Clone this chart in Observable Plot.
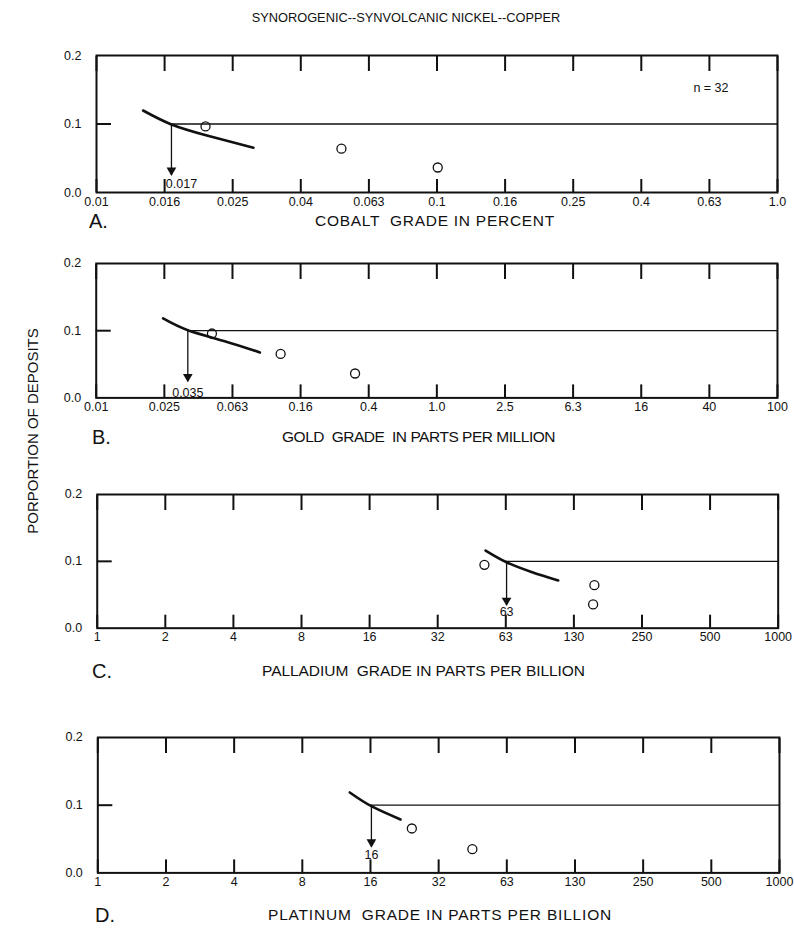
<!DOCTYPE html>
<html><head><meta charset="utf-8">
<script src="https://cdn.jsdelivr.net/npm/d3@7"></script>
<script src="https://cdn.jsdelivr.net/npm/@observablehq/plot@0.6"></script>
<style>
body{margin:0;background:#fff;}
#page{position:relative;width:794px;height:930px;font-family:"Liberation Sans",Arial,Helvetica,sans-serif;color:#111;overflow:hidden;background:#fff;}
.t{position:absolute;white-space:pre;line-height:1;transform:translateY(-50%);}
.panel{position:absolute;left:0;}
</style></head><body><div id="page"></div>
<script>
// ---------- text ----------
const chartTitle = "SYNOROGENIC--SYNVOLCANIC NICKEL--COPPER";
const yAxisTitle = "PORPORTION OF DEPOSITS";
const panelLetters = ["A.", "B.", "C.", "D."];
const panelTitles = [
  "COBALT  GRADE IN PERCENT",
  "GOLD  GRADE  IN PARTS PER MILLION",
  "PALLADIUM  GRADE IN PARTS PER BILLION",
  "PLATINUM  GRADE IN PARTS PER BILLION"
];
const countLabel = "n = 32";

// ---------- axes ----------
const xDomainA = [0.01, 1];
const xDomainB = [0.01, 100];
const xDomainC = [1, 1000];
const xDomainD = [1, 1000];
const tickLabelsA = ["0.01","0.016","0.025","0.04","0.063","0.1","0.16","0.25","0.4","0.63","1.0"];
const tickLabelsB = ["0.01","0.025","0.063","0.16","0.4","1.0","2.5","6.3","16","40","100"];
const tickLabelsC = ["1","2","4","8","16","32","63","130","250","500","1000"];
const tickLabelsD = ["1","2","4","8","16","32","63","130","250","500","1000"];
const yTicks = [0, 0.1, 0.2];
const yDomain = [0, 0.2];

// ---------- fitted curves ----------
const curveXA = [0.0137, 0.0166, 0.0211, 0.0289];
const curveYA = [0.1197, 0.0993, 0.0832, 0.0653];
const curveXB = [0.0247, 0.0345, 0.0562, 0.0914];
const curveYB = [0.1182, 0.1007, 0.0848, 0.0676];
const curveXC = [51.4, 63.6, 82.5, 107.4];
const curveYC = [0.1162, 0.0987, 0.0838, 0.0714];
const curveXD = [12.85, 16.0, 21.5];
const curveYD = [0.1188, 0.0985, 0.0789];

// ---------- observed points ----------
const pointXA = [0.0209, 0.0524, 0.1005];
const pointYA = [0.0964, 0.0640, 0.0365];
const pointXB = [0.0478, 0.121, 0.331];
const pointYB = [0.0958, 0.0655, 0.0363];
const pointXC = [50.8, 155, 153];
const pointYC = [0.0948, 0.0643, 0.0355];
const pointXD = [24.1, 44.5];
const pointYD = [0.0656, 0.0350];

// ---------- 10th-percentile markers ----------
const crossX = [0.0166, 0.0345, 63.6, 16.0];
const crossY = 0.1;
const arrowTipY = [0.025, 0.024, 0.034, 0.038];
const markerLabels = ["0.017", "0.035", "63", "16"];
const markerLabelY = [0.0127, 0.0075, 0.024, 0.026];

// ---------- layout (pixels) ----------
const frames = [
  {top: 55, bottom: 192, left: 96, right: 777},
  {top: 263.3, bottom: 397.7, left: 95.7, right: 777},
  {top: 494, bottom: 627.7, left: 96.7, right: 777.7},
  {top: 737.3, bottom: 872.7, left: 97.3, right: 779}
];
const letterPos = [{x: 89, y: 221}, {x: 92, y: 437}, {x: 92, y: 671}, {x: 95, y: 915}];
const titlePos = [{x: 315, y: 221}, {x: 282, y: 437}, {x: 262, y: 671}, {x: 268, y: 915}];
const titleWidth = [240, 273, 323, 344];
const markerLabelDx = [10, 0, 0, 0];

const panels = [
  {dom: xDomainA, labels: tickLabelsA, cx: curveXA, cy: curveYA, px: pointXA, py: pointYA},
  {dom: xDomainB, labels: tickLabelsB, cx: curveXB, cy: curveYB, px: pointXB, py: pointYB},
  {dom: xDomainC, labels: tickLabelsC, cx: curveXC, cy: curveYC, px: pointXC, py: pointYC},
  {dom: xDomainD, labels: tickLabelsD, cx: curveXD, cy: curveYD, px: pointXD, py: pointYD}
];

const page = document.getElementById("page");
const FONT = '"Liberation Sans", Arial, Helvetica, sans-serif';
const INK = "#111";

function addText(str, x, y, size, extra) {
  const d = document.createElement("div");
  d.className = "t";
  d.textContent = str;
  d.style.left = x + "px";
  d.style.top = y + "px";
  d.style.fontSize = size + "px";
  if (extra) Object.assign(d.style, extra);
  page.appendChild(d);
  return d;
}

panels.forEach((p, i) => {
  const f = frames[i];
  const mt = 12, mb = 26;
  const l0 = Math.log10(p.dom[0]), l1 = Math.log10(p.dom[1]);
  const n = p.labels.length - 1;
  const ticks = p.labels.map((_, k) => Math.pow(10, l0 + k * (l1 - l0) / n));
  const fmt = d => p.labels[Math.round((Math.log10(d) - l0) / (l1 - l0) * n)];
  const curve = p.cx.map((x, k) => ({x, y: p.cy[k]}));
  const pts = p.px.map((x, k) => ({x, y: p.py[k]}));
  const marker = [{x: crossX[i], y: crossY, tip: arrowTipY[i], ly: markerLabelY[i], label: markerLabels[i]}];
  const refLine = [{y: crossY, x1: crossX[i], x2: p.dom[1]}];
  const tickData = ticks.map(t => ({t, label: fmt(t)}));

  const svg = Plot.plot({
    width: 794,
    height: mt + (f.bottom - f.top) + mb,
    marginLeft: f.left,
    marginRight: 794 - f.right,
    marginTop: mt,
    marginBottom: mb,
    x: {type: "log", domain: p.dom},
    y: {domain: yDomain},
    style: {fontFamily: FONT, fontSize: "12.5px", color: INK, background: "transparent", overflow: "visible"},
    marks: [
      Plot.text(tickData, {x: "t", frameAnchor: "bottom", text: "label", dy: 13, fontSize: 12.5, fill: INK}),
      Plot.axisX({anchor: "bottom", ticks, tickSize: -13, fill: "none", strokeWidth: 2, label: null}),
      Plot.axisX({anchor: "top", ticks, tickSize: -15, fill: "none", strokeWidth: 2, label: null}),
      Plot.axisY({anchor: "left", ticks: yTicks, tickFormat: d3.format(".1f"), tickSize: 0, tickPadding: 15, label: null}),
      Plot.axisY({anchor: "left", ticks: [0.1], tickSize: -15, fill: "none", strokeWidth: 2, label: null}),
      Plot.frame({strokeWidth: 2, stroke: INK}),
      Plot.ruleY(refLine, {y: "y", x1: "x1", x2: "x2", stroke: INK, strokeWidth: 1.3}),
      Plot.line(curve, {x: "x", y: "y", curve: "natural", stroke: INK, strokeWidth: 2.6}),
      Plot.dot(pts, {x: "x", y: "y", r: 4.5, stroke: INK, strokeWidth: 1.3, fill: "none"}),
      Plot.ruleX(marker, {x: "x", y1: "y", y2: "tip", stroke: INK, strokeWidth: 1.3}),
      Plot.dot(marker, {x: "x", y: "tip", symbol: "triangle", rotate: 180, r: 3.6, fill: INK, stroke: "none", dy: -5}),
      Plot.text(marker, {x: "x", y: "ly", text: "label", fontSize: 12.5, dx: markerLabelDx[i], fill: INK}),
      i === 0 ? Plot.text([countLabel], {frameAnchor: "top-right", text: d => d, dx: -49, dy: 28, fontSize: 12.5, textAnchor: "end", fill: INK}) : null
    ]
  });
  const holder = document.createElement("div");
  holder.className = "panel";
  holder.style.top = (f.top - mt) + "px";
  holder.appendChild(svg);
  page.appendChild(holder);

  addText(panelLetters[i], letterPos[i].x, letterPos[i].y, 20);
  const tt = addText(panelTitles[i], titlePos[i].x, titlePos[i].y, 15.5);
  const w = tt.getBoundingClientRect().width;
  const chars = panelTitles[i].length;
  tt.style.letterSpacing = ((titleWidth[i] - w) / chars) + "px";
});

addText(chartTitle, 406, 18, 12.8, {transform: "translate(-50%,-50%)"});
addText(yAxisTitle, 32, 431, 15, {transform: "translate(-50%,-50%) rotate(-90deg)"});
</script>
</body></html>
